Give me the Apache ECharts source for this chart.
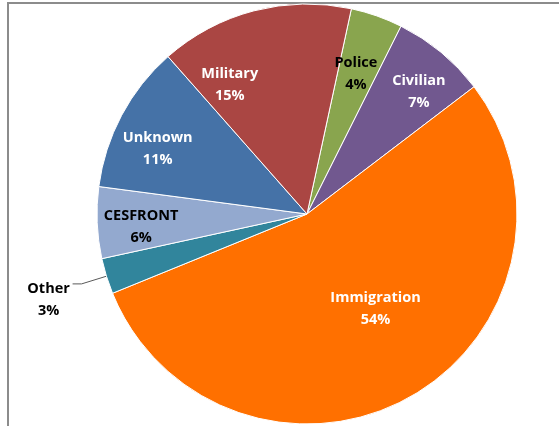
<!DOCTYPE html>
<html>
<head>
<meta charset="utf-8">
<script src="https://cdn.jsdelivr.net/npm/echarts@6/dist/echarts.min.js"></script>
<style>
  html, body { margin: 0; padding: 0; background: #fff; }
  #wrap { position: relative; width: 559px; height: 426px; overflow: hidden; }
  #frame { position: absolute; left: 7px; top: 2px; width: 600px; height: 500px;
           border-left: 2px solid #8c8c8c; border-top: 2px solid #8c8c8c; box-sizing: border-box; }
  #chart { position: absolute; left: 0; top: 0; width: 559px; height: 426px; }
</style>
</head>
<body>
<div id="wrap">
  <div id="frame"></div>
  <div id="chart"></div>
</div>
<script>
// Data (clockwise from the top)
const categories = ['Police', 'Civilian', 'Immigration', 'Other', 'CESFRONT', 'Unknown', 'Military'];
const shares = [4, 7.25, 54.2, 2.75, 5.5, 11.4, 14.9];
const percentLabels = ['4%', '7%', '54%', '3%', '6%', '11%', '15%'];

// Styles
const sliceColors = ['#89A54E', '#71588F', '#FF7000', '#31859C', '#93A9CF', '#4572A7', '#AA4643'];
const labelColors = ['#000', '#fff', '#fff', '#000', '#000', '#fff', '#fff'];
// label nudges relative to the default label position
const labelShift = [[13, -38], [43, -39], [15, 1], [-19, 16], [-58, 8], [-54, -14], [-50, -25]];

const chart = echarts.init(document.getElementById('chart'), null, { renderer: 'canvas' });

const data = categories.map((name, i) => ({
  name: name,
  value: shares[i],
  itemStyle: { color: sliceColors[i] },
  label: {
    color: labelColors[i],
    position: name === 'Other' ? 'outside' : 'inside',
    formatter: name + '\n' + percentLabels[i]
  },
  labelLine: name === 'Other' ? { show: true, length: 26, length2: 9, lineStyle: { color: '#595959', width: 1 } } : { show: false }
}));

chart.setOption({
  animation: false,
  backgroundColor: 'transparent',
  series: [{
    type: 'pie',
    center: [307, 214],
    radius: [0, 210],
    startAngle: 77.8,
    clockwise: true,
    avoidLabelOverlap: false,
    itemStyle: { borderColor: '#ffffff', borderWidth: 1 },
    label: {
      show: true,
      fontFamily: 'Open Sans',
      fontWeight: 'bold',
      fontSize: 14.5,
      lineHeight: 22,
      align: 'center'
    },
    labelLayout: function (p) {
      const s = labelShift[p.dataIndex];
      if (categories[p.dataIndex] === 'Other') {
        return { align: 'center', dx: s[0], dy: s[1] };
      }
      return { dx: s[0], dy: s[1] };
    },
    emphasis: { disabled: true },
    data: data
  }]
});
</script>
</body>
</html>
